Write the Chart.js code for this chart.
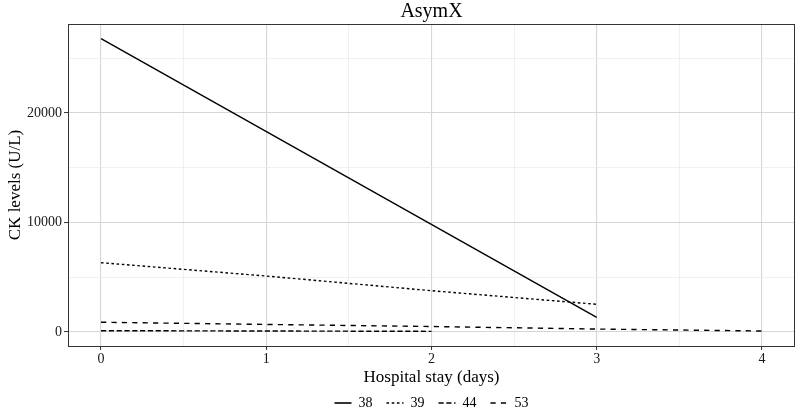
<!DOCTYPE html>
<html><head><meta charset="utf-8">
<script src="https://cdn.jsdelivr.net/npm/chart.js@4/dist/chart.umd.min.js"></script>
<style>html,body{margin:0;padding:0;background:#fff}#wrap{width:796px;height:412px}</style>
</head><body><div id="wrap"><canvas id="c" width="796" height="412"></canvas></div>
<script>
const chartTitle = 'AsymX';
const xTitle = 'Hospital stay (days)';
const yTitle = 'CK levels (U/L)';
const seriesNames = ['38', '39', '44', '53'];
const days38 = [0, 3];
const ck38 = [26790, 1340];
const days39 = [0, 1, 2, 3];
const ck39 = [6330, 5110, 3770, 2530];
const days44 = [0, 1, 2];
const ck44 = [120, 90, 60];
const days53 = [0, 1, 2, 3, 4];
const ck53 = [890, 690, 500, 270, 90];
const xTicks = [0, 1, 2, 3, 4];
const xMinor = [0.5, 1.5, 2.5, 3.5];
const yTicks = [0, 10000, 20000];
const yMinor = [5000, 15000, 25000];

const allDays = [days38, days39, days44, days53];
const allCk = [ck38, ck39, ck44, ck53];
const dashes = [[], [2.6, 2.6], [5.2, 2.6], [5.2, 5.2]];

Chart.defaults.font.family = "'Liberation Serif', 'Times New Roman', serif";
Chart.defaults.color = '#1a1a1a';

const datasets = seriesNames.map((n, i) => ({
  label: n,
  data: allDays[i].map((d, j) => ({x: d, y: allCk[i][j]})),
  borderColor: '#000',
  backgroundColor: '#000',
  borderWidth: 1.4,
  borderDash: dashes[i],
  pointRadius: 0,
  pointStyle: 'line',
  tension: 0,
  fill: false
}));

const isIn = (arr, v) => arr.some(a => Math.abs(a - v) < 1e-9);

const borderPlugin = {
  id: 'panelBorder',
  afterDatasetsDraw(chart) {
    const a = chart.chartArea, ctx = chart.ctx;
    ctx.save();
    ctx.strokeStyle = '#333';
    ctx.lineWidth = 1;
    ctx.strokeRect(Math.round(a.left) + 0.5, Math.round(a.top) + 0.5, Math.round(a.right - a.left) - 1, Math.round(a.bottom - a.top));
    ctx.restore();
  }
};

new Chart(document.getElementById('c'), {
  type: 'line',
  data: {datasets},
  plugins: [borderPlugin],
  options: {
    responsive: false,
    animation: false,
    layout: {padding: {left: 0, right: 1, top: 0, bottom: -8}},
    plugins: {
      title: {
        display: true, text: chartTitle, fullSize: false,
        color: '#000',
        font: {size: 20, weight: 'normal', lineHeight: 1.2},
        padding: {top: 0, bottom: 0}
      },
      legend: {
        display: true, position: 'bottom', fullSize: false,
        labels: {
          usePointStyle: true, pointStyle: 'line', pointStyleWidth: 17,
          boxHeight: 14,
          font: {size: 14}, color: '#000', padding: 14,
          generateLabels: chart => chart.data.datasets.map((ds, i) => ({
            text: ds.label,
            datasetIndex: i,
            fillStyle: '#000',
            strokeStyle: '#000',
            fontColor: '#000',
            lineWidth: 1.6,
            lineDash: ds.borderDash,
            lineCap: 'butt',
            pointStyle: 'line',
            hidden: false
          }))
        }
      },
      tooltip: {enabled: false}
    },
    scales: {
      x: {
        type: 'linear', min: -0.2, max: 4.2,
        afterBuildTicks: s => { s.ticks = [...xTicks, ...xMinor].sort((a, b) => a - b).map(v => ({value: v})); },
        afterFit: s => { s.height = 36; },
        ticks: {
          autoSkip: false, maxRotation: 0, padding: 1,
          font: {size: 14}, color: '#1a1a1a',
          callback: v => isIn(xTicks, v) ? String(v) : ''
        },
        grid: {
          drawTicks: true, tickLength: 4,
          color: c => isIn(xTicks, c.tick.value) ? '#d6d6d6' : '#eaeaea',
          lineWidth: c => isIn(xTicks, c.tick.value) ? 1.1 : 0.7,
          tickColor: c => isIn(xTicks, c.tick.value) ? '#333' : 'rgba(0,0,0,0)',
          tickWidth: 1
        },
        border: {display: false},
        title: {display: true, text: xTitle, color: '#000', font: {size: 17}, padding: {top: 0, bottom: -6}}
      },
      y: {
        type: 'linear', min: -1279, max: 28128,
        afterBuildTicks: s => { s.ticks = [...yTicks, ...yMinor].sort((a, b) => a - b).map(v => ({value: v})); },
        afterFit: s => { s.width = 68; },
        ticks: {
          autoSkip: false, padding: 2,
          font: {size: 14}, color: '#1a1a1a',
          callback: v => isIn(yTicks, v) ? String(v) : ''
        },
        grid: {
          drawTicks: true, tickLength: 4,
          color: c => isIn(yTicks, c.tick.value) ? '#d6d6d6' : '#eaeaea',
          lineWidth: c => isIn(yTicks, c.tick.value) ? 1.1 : 0.7,
          tickColor: c => isIn(yTicks, c.tick.value) ? '#333' : 'rgba(0,0,0,0)',
          tickWidth: 1
        },
        border: {display: false},
        title: {display: true, text: yTitle, color: '#000', font: {size: 17}, padding: {top: 5, bottom: 0}}
      }
    }
  }
});
</script>
</body></html>
